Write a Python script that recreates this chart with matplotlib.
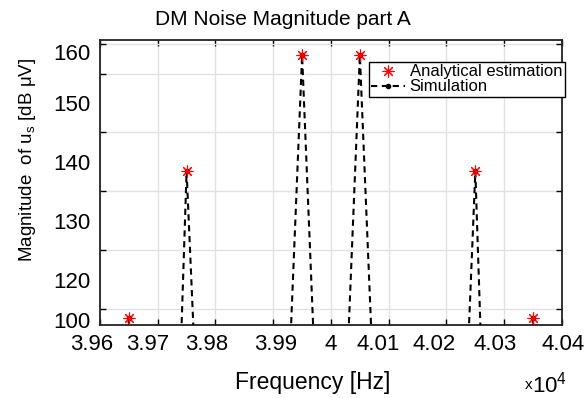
import numpy as np
import matplotlib
matplotlib.use("Agg")
import matplotlib.pyplot as plt
import matplotlib.transforms as mtransforms
from matplotlib.ticker import FixedLocator, NullFormatter

# analytical estimation (red asterisks)
ana_freq = [39650, 39750, 39950, 40050, 40250, 40350]
ana_mag = [113.5, 138.4, 158.1, 158.1, 138.4, 113.5]

# simulation spectrum (50 Hz bins, floor values fall below the visible range)
sim_freq = [39600, 39650, 39700, 39750, 39800, 39850, 39900, 39950, 40000,
            40050, 40100, 40150, 40200, 40250, 40300, 40350, 40400]
sim_mag = [-20, 113.5, -12, 138.4, 26, 20, 38, 158.1, 38,
           158.1, 40, 20, 19, 138.4, -12, 113.5, -20]

x_ticks = [39600, 39700, 39800, 39900, 40000, 40100, 40200, 40300, 40400]
x_ticklabels = ["3.96", "3.97", "3.98", "3.99", "4", "4.01", "4.02", "4.03", "4.04"]
# the original renderer drew the tick labels slightly off their ticks (pixels)
x_label_shift = [-8.5, -10, -9, 2.5, 0, -11, -12.5, -9, 1]
y_grid = [115, 120, 125, 130, 135, 140, 145, 150, 155, 160]
y_label_pos = [113.2, 120, 130, 140, 150, 158.6]
y_ticklabels = ["100", "120", "130", "140", "150", "160"]

plt.rcParams['font.family'] = ['Liberation Sans', 'DejaVu Sans']

fig = plt.figure(figsize=(5.86, 3.98), dpi=100)
ax = fig.add_axes([0.1706, 0.1834, 0.7884, 0.7161])

ax.plot(sim_freq, sim_mag, linestyle=(0, (3, 2.2)), color='black', lw=1.5,
        marker='.', markersize=6, label='Simulation', zorder=3)
ax.plot(ana_freq, ana_mag, linestyle='none', marker=(8, 2, 0), color='red',
        markersize=8.5, mew=0.8, label='Analytical estimation', zorder=4)

ax.set_xlim(39600, 40400)
ax.set_ylim(112.3, 160.7)

ax.set_xticks(x_ticks)
ax.set_xticklabels(x_ticklabels)
ax.set_yticks(y_label_pos)
ax.set_yticklabels(y_ticklabels)
ax.yaxis.set_minor_locator(FixedLocator(y_grid))
ax.yaxis.set_minor_formatter(NullFormatter())

ax.tick_params(axis='x', which='major', direction='in', length=4, width=1,
               labelsize=16, pad=6.5, top=True)
ax.tick_params(axis='y', which='major', length=0, labelsize=16, pad=7)
ax.tick_params(axis='y', which='minor', direction='in', length=4, width=1, right=True)

for lab, dx in zip(ax.get_xticklabels(), x_label_shift):
    lab.set_transform(lab.get_transform() +
                      mtransforms.ScaledTranslation(dx / 100, 0, fig.dpi_scale_trans))

ax.grid(True, axis='x', which='major', color='#e2e2e2', lw=1)
ax.grid(True, axis='y', which='minor', color='#e2e2e2', lw=1)
ax.set_axisbelow(True)
for s in ax.spines.values():
    s.set_linewidth(1.3)
    s.set_color('#222222')

ax.set_title("DM Noise Magnitude part A", fontsize=15, x=0.396, pad=11)
ax.set_xlabel("Frequency [Hz]", fontsize=16.5)
ax.xaxis.set_label_coords(0.461, -0.16)
ax.set_ylabel("Magnitude  of u$_\\mathregular{s}$ [dB \u03bcV]", fontsize=13.5)
ax.yaxis.set_label_coords(-0.135, 0.579)
fig.text(0.896, 0.022, "x", fontsize=11, ha='left', va='baseline')
fig.text(0.908, 0.015, "10$^\\mathregular{4}$", fontsize=16, ha='left', va='baseline')

h, l = ax.get_legend_handles_labels()
leg = ax.legend(h[::-1], l[::-1], loc='upper left', bbox_to_anchor=(0.582, 0.923),
                fontsize=12, frameon=True, fancybox=False, edgecolor='black',
                framealpha=1, borderpad=0.15, labelspacing=0.0, handlelength=2.0,
                handletextpad=0.3, borderaxespad=0)
leg.get_frame().set_linewidth(1.0)

fig.savefig("out.png", dpi=100)
